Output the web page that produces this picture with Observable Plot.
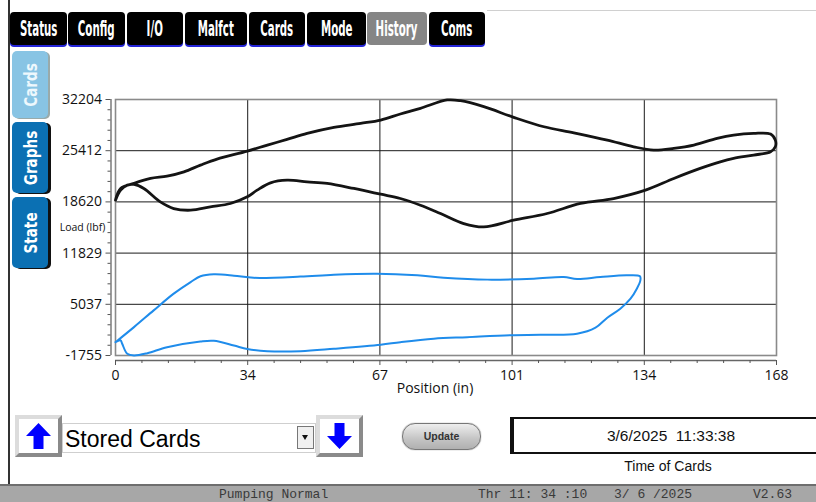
<!DOCTYPE html>
<html><head><meta charset="utf-8">
<script src="https://cdn.jsdelivr.net/npm/d3@7"></script>
<script src="https://cdn.jsdelivr.net/npm/@observablehq/plot@0.6"></script>
<style>
body{margin:0;width:816px;height:502px;overflow:hidden;background:#fff;position:relative;font-family:"Liberation Sans",Arial,sans-serif;}
#chart{position:absolute;left:0;top:85px;}
.edge{position:absolute;left:8px;top:0;width:1.5px;height:484px;background:#333;}
.topline{position:absolute;left:487px;top:10px;width:330px;height:1px;background:#d0d0d0;}
.tab{position:absolute;top:12px;height:33px;background:#000;border-radius:4px;color:#fff;font-family:"Liberation Sans Narrow","DejaVu Sans Condensed",sans-serif;font-weight:bold;font-size:15px;display:flex;align-items:center;justify-content:center;box-shadow:0 2px 0 #2424d8;}
.tab span{display:inline-block;transform:scale(0.76,1.45);white-space:nowrap;}
.tab.sel{background:#858585;box-shadow:none;}
.vtab{position:absolute;left:12px;width:36px;border-radius:5px;background:#0b70b3;color:#fff;font-family:"Liberation Sans Narrow","DejaVu Sans Condensed",sans-serif;font-weight:bold;font-size:18px;box-shadow:3px 1px 0 #111;}
.vtab span{position:absolute;left:50%;top:50%;transform:translate(-50%,-50%) rotate(-90deg) scaleX(0.84);white-space:nowrap;}
.vtab.light{background:#88c4e4;color:#eef8fd;box-shadow:2px 1px 0 #9aa;}
.abtn{position:absolute;top:415px;width:39px;height:34px;border:4px solid;border-color:#dcdcdc #8a8a8a #8a8a8a #dcdcdc;background:#fff;}
.abtn svg{position:absolute;left:6px;top:3px;}
#dd{position:absolute;left:62px;top:423px;width:252px;height:28px;border:1px solid #cfcfcf;background:#fff;font-size:23px;line-height:28px;color:#000;}
#dd .t{position:absolute;left:2px;top:1px;}
#ddarrow{position:absolute;left:297px;top:426px;width:15px;height:21px;border:1px solid #777;background:#f0f0f0;}
#ddarrow i{position:absolute;left:4px;top:8px;width:0;height:0;border-left:3.5px solid transparent;border-right:3.5px solid transparent;border-top:5px solid #111;}
#upd{position:absolute;left:402px;top:423px;width:77px;height:25px;border:1.5px solid #777;border-radius:13px;background:linear-gradient(#eeeeee,#c4c4c4 60%,#b0b0b0);font-size:10.5px;font-weight:bold;color:#333;text-align:center;line-height:25px;box-shadow:0 0 1px #555;}
#tbox{position:absolute;left:510px;top:417px;width:314px;height:33px;border:2px solid #111;border-left-width:4px;font-size:15.5px;text-align:center;line-height:33px;color:#111;}
#tlab{position:absolute;left:568px;width:200px;top:458px;text-align:center;font-size:14px;color:#111;}
#status{position:absolute;left:0;top:484px;width:816px;height:18px;background:#a7a7a7;border-top:2px solid #6e6e6e;font-family:"Liberation Mono","DejaVu Sans Mono",monospace;font-size:13px;color:#3a3a3a;}
#status span{position:absolute;top:1px;white-space:pre;}
</style></head>
<body>
<div id="chart"></div>
<div class="edge"></div>
<div class="topline"></div>
<div class="tab" style="left:10px;width:57px"><span>Status</span></div>
<div class="tab" style="left:68px;width:57px"><span>Config</span></div>
<div class="tab" style="left:127px;width:56px"><span>I/O</span></div>
<div class="tab" style="left:185px;width:62px"><span>Malfct</span></div>
<div class="tab" style="left:249px;width:56px"><span>Cards</span></div>
<div class="tab" style="left:307px;width:59px"><span>Mode</span></div>
<div class="tab sel" style="left:367px;width:60px"><span>History</span></div>
<div class="tab" style="left:429px;width:56px"><span>Coms</span></div>
<div class="vtab light" style="top:51px;height:67px"><span>Cards</span></div>
<div class="vtab" style="top:122px;height:71px"><span>Graphs</span></div>
<div class="vtab" style="top:197px;height:71px"><span>State</span></div>
<div class="abtn" style="left:15px"><svg width="27" height="28" viewBox="0 0 27 28"><polygon points="13.5,1 26,14 18.5,14 18.5,27 8.5,27 8.5,14 1,14" fill="#0000ff"/></svg></div>
<div id="dd"><span class="t">Stored Cards</span></div>
<div id="ddarrow"><i></i></div>
<div class="abtn" style="left:316px"><svg width="27" height="28" viewBox="0 0 27 28"><polygon points="13.5,27 26,14 18.5,14 18.5,1 8.5,1 8.5,14 1,14" fill="#0000ff"/></svg></div>
<div id="upd">Update</div>
<div id="tbox">3/6/2025&nbsp;&nbsp;11:33:38</div>
<div id="tlab">Time of Cards</div>
<div id="status"><span style="left:219px">Pumping Normal</span><span style="left:478px">Thr 11: 34 :10</span><span style="left:614px">3/ 6 /2025</span><span style="left:753px">V2.63</span></div>
<script>
// Axis ticks
const xTicks = [0, 33.6, 67.2, 100.8, 134.4, 168];
const xTickLabels = ["0", "34", "67", "101", "134", "168"];
const yTicks = [-1755, 5036.8, 11828.6, 18620.4, 25412.2, 32204];
const yTickLabels = ["-1755", "5037", "11829", "18620", "25412", "32204"];

// Surface card (black): position (in), load (lbf)
const surfacePos = [0,1.3,4.7,8.9,13.1,17.4,21.6,25.8,33.5,38.6,43.6,48.7,55.5,62.3,67.4,72.4,77.5,84.3,87.7,93.6,101.2,108.9,116.5,125.0,131.7,136.8,141.9,147.0,152.9,157.1,162.2,166.5,167.7,167.7,166.5,162.2,157.1,153.7,148.6,141.9,134.7,126.6,118.2,109.7,101.2,93.6,88.5,82.6,77.5,72.4,67.4,60.6,53.8,48.7,43.6,39.4,36.0,33.5,29.2,24.1,19.1,14.8,11.4,7.2,4.7,3.0,1.3,0];
const surfaceLoad = [18850,20400,21070,21730,22040,22610,23500,24300,25360,26160,26910,27710,28510,29040,29480,30280,31030,32140,32040,31250,29840,28590,27790,26820,25930,25490,25720,26160,27050,27490,27710,27620,26820,25930,25270,24830,24390,23940,23060,21730,20180,19070,18410,17080,16190,15300,15750,17080,18180,19070,19640,20400,21070,21280,21500,21150,20180,19290,18410,17960,17520,17740,18620,20400,20930,20840,20180,18850];

// Pump card (blue)
const pumpPos = [0,4.7,9.7,14.8,19.1,21.6,25.0,30.1,35.1,47.0,55.5,66.5,76.7,83.4,94.5,106.3,113.9,117.3,123.2,129.9,133.3,133.4,132.5,130.9,128.3,125.0,122.0,117.3,108.0,100.4,89.4,80.9,72.4,67.4,55.5,47.0,38.6,33.5,30.1,25.0,21.6,13.1,8.1,4.7,3.0,1.7,1.3,0];
const pumpLoad = [10,2010,4230,6450,7990,8750,9010,8840,8550,8710,8970,9100,8880,8570,8310,8440,8650,8390,8650,8880,8750,8210,7110,5780,4450,3260,1930,1130,1000,940,680,470,10,-330,-860,-1180,-1180,-890,-430,200,110,-650,-1450,-1755,-1530,-200,240,10];

const surface = surfacePos.map((p, i) => ({pos: p, load: surfaceLoad[i]}));
const pump = pumpPos.map((p, i) => ({pos: p, load: pumpLoad[i]}));

const xMin = xTicks[0], xMax = xTicks[xTicks.length - 1];
const yMin = yTicks[0], yMax = yTicks[yTicks.length - 1];
const xMinor = d3.range(26).filter(i => i % 5).map(i => xMin + i * (xMax - xMin) / 25);
const yMinor = d3.range(26).filter(i => i % 5).map(i => yMin + i * (yMax - yMin) / 25);
const xLab = new Map(xTicks.map((t, i) => [t, xTickLabels[i]]));
const yLab = new Map(yTicks.map((t, i) => [t, yTickLabels[i]]));

const chart = Plot.plot({
  width: 816, height: 320,
  marginLeft: 115, marginRight: 40, marginTop: 14, marginBottom: 50,
  style: {background: "transparent", fontFamily: "'Open Sans', sans-serif", fontSize: "14px", color: "#111", overflow: "visible"},
  x: {domain: [xMin, xMax]},
  y: {domain: [yMin, yMax]},
  marks: [
    Plot.gridX(xTicks, {stroke: "#1a1a1a", strokeOpacity: 1, strokeWidth: 1}),
    Plot.gridY(yTicks, {stroke: "#1a1a1a", strokeOpacity: 1, strokeWidth: 1}),
    Plot.frame({stroke: "#8a8a8a", strokeWidth: 1.6}),
    Plot.line(surface, {x: "pos", y: "load", stroke: "#141414", strokeWidth: 2.8, curve: "catmull-rom"}),
    Plot.line(pump, {x: "pos", y: "load", stroke: "#1f8ceb", strokeWidth: 2, curve: "catmull-rom"}),
    Plot.ruleY([yMin], {x1: xMin, x2: xMax, dy: 5, stroke: "#666", strokeWidth: 1.3}),
    Plot.ruleX([xMin], {y1: yMin, y2: yMax, dx: -4.5, stroke: "#666", strokeWidth: 1.3}),
    Plot.axisX(xTicks, {tickSize: 5, tickPadding: 5, dy: 5, stroke: "#555", tickFormat: d => xLab.get(d), label: null}),
    Plot.axisX(xMinor, {tickSize: 3, dy: 5, stroke: "#555", tickFormat: () => "", label: null}),
    Plot.axisY(yTicks, {tickSize: 5, tickPadding: 4, dx: -4.5, stroke: "#555", tickFormat: d => yLab.get(d), label: null}),
    Plot.axisY(yMinor, {tickSize: 3, dx: -4.5, stroke: "#555", tickFormat: () => "", label: null}),
    Plot.text(["Position (in)"], {text: d => d, frameAnchor: "bottom", dx: -11, dy: 37, fontSize: 14}),
    Plot.text(["Load (lbf)"], {text: d => d, frameAnchor: "left", textAnchor: "middle", dx: -33, fontSize: 10.5})
  ]
});
document.getElementById("chart").appendChild(chart);
</script>
</body></html>
